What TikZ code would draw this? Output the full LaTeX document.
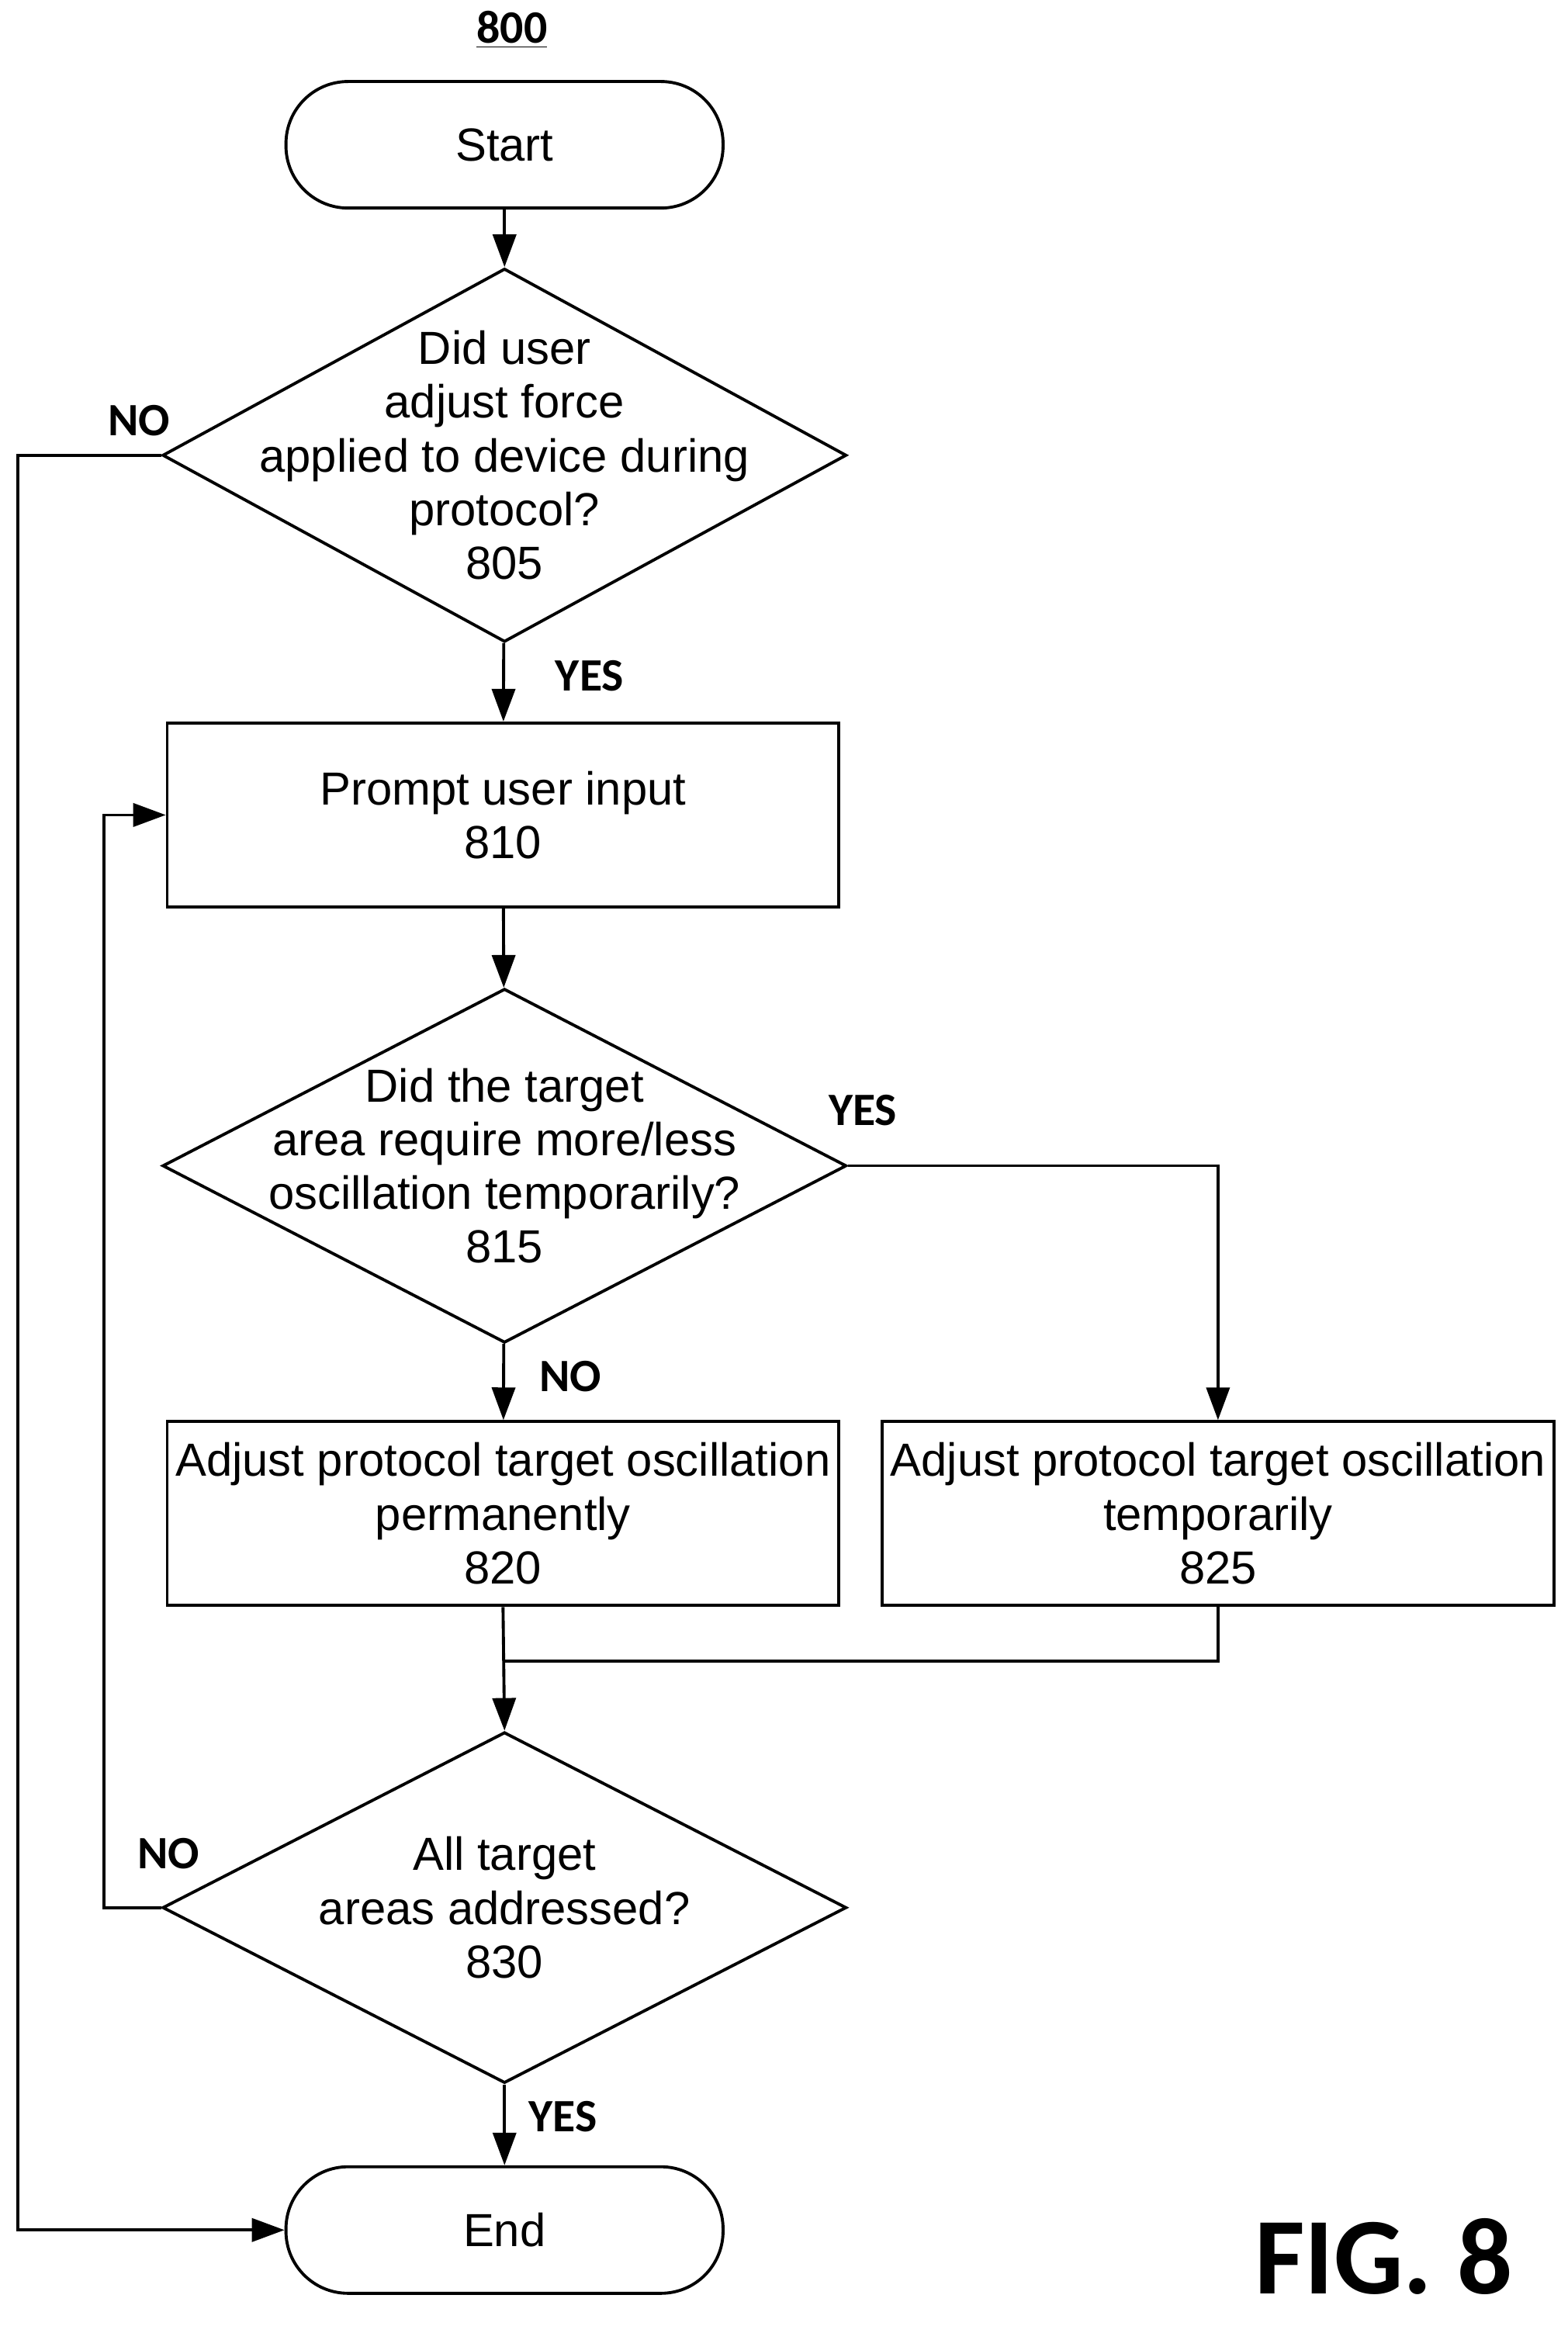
\documentclass[tikz,border=0pt]{standalone}
\usepackage{fontspec}
\setmainfont{Liberation Sans}
\newfontfamily\lblfont{Carlito}
\usetikzlibrary{shapes.geometric, arrows.meta, positioning}

\tikzset{
    base/.style={draw=black, line width=1.1pt, inner sep=0pt, font=\fontsize{17}{19.7}\selectfont, align=center},
    terminal/.style={base, rectangle, rounded corners=0.8cm, minimum width=5.63cm, minimum height=1.63cm},
    process/.style={base, rectangle, minimum width=8.65cm, minimum height=2.37cm},
    decision/.style={base, diamond, minimum width=8.81cm, minimum height=#1},
    flow/.style={line width=1.1pt, -{Triangle[length=0.42cm, width=0.3cm]}},
    line/.style={line width=1.1pt},
    tag/.style={font=\lblfont\bfseries\fontsize{17}{20}\selectfont}
}

\begin{document}
\begin{tikzpicture}[x=0.01923cm, y=-0.01923cm]
    \useasboundingbox (0,0) rectangle (1050,1563);

    % Define nodes
    \node (title) at (343,20) [tag] {\underline{800}};
    \node (start) at (338,97) [terminal] {Start};
    \node (check805) at (338,305) [decision=4.81cm, label={[base, draw=none]center:Did user\\adjust force\\applied to device during\\protocol?\\805}] {};
    \node (prompt) at (337,546) [process] {Prompt user input\\810};
    \node (check815) at (338,781) [decision=4.56cm, label={[base, draw=none]center:Did the target\\area require more/less\\oscillation temporarily?\\815}] {};
    \node (perm) at (337,1014) [process] {Adjust protocol target oscillation\\permanently\\820};
    \node (temp) at (816,1014) [process] {Adjust protocol target oscillation\\temporarily\\825};
    \node (check830) at (338,1278) [decision=4.52cm, label={[base, draw=none]center:All target\\areas addressed?\\830}] {};
    \node (end) at (338,1494) [terminal] {End};
    \coordinate (merge) at (338,1113);
    \node (fig) at (927,1512) [font=\lblfont\bfseries\fontsize{40}{44}\selectfont] {FIG. 8};

    % Connect nodes
    \draw[flow] (start) -- (check805);
    \draw[flow] (check805) -- (prompt);
    \draw[flow] (check805.west) -- ++(-96,0) |- (end.west);
    \draw[flow] (prompt) -- (check815);
    \draw[flow] (check815) -- (perm);
    \draw[flow] (check815.east) -| (temp.north);
    \draw[line] (temp.south) |- (merge);
    \draw[flow] (perm.south) -- (check830.north);
    \draw[flow] (check830) -- (end);
    \draw[flow] (check830.west) -- ++(-38,0) |- (prompt.west);

    % Labels
    \node at (93,282) [tag] {NO};
    \node at (395,453) [tag] {YES};
    \node at (578,744) [tag] {YES};
    \node at (382,922) [tag] {NO};
    \node at (113,1242) [tag] {NO};
    \node at (377,1418) [tag] {YES};
\end{tikzpicture}
\end{document}
